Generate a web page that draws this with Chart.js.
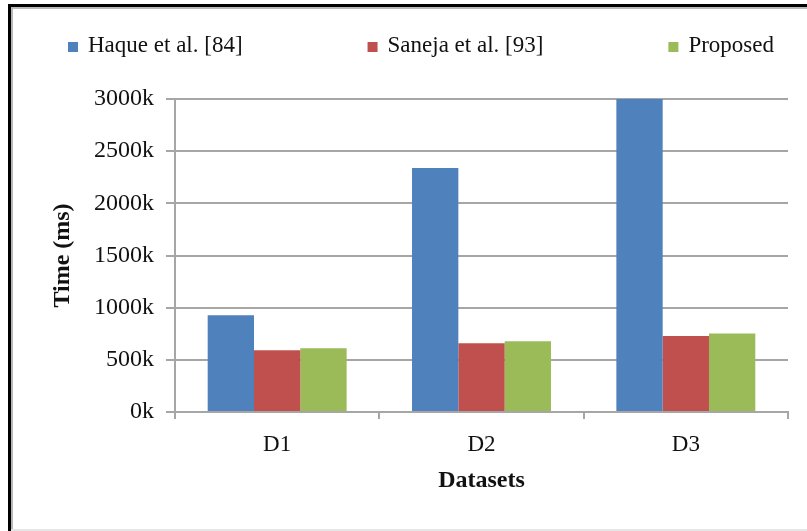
<!DOCTYPE html>
<html>
<head>
<meta charset="utf-8">
<script src="https://cdn.jsdelivr.net/npm/chart.js@4.4.1/dist/chart.umd.min.js"></script>
<style>
  html, body { margin: 0; padding: 0; background: #fff; }
  #wrap { width: 807px; height: 531px; position: relative; }
</style>
</head>
<body>
<div id="wrap"><canvas id="c" width="807" height="531"></canvas></div>
<script>
// Execution time per dataset, in thousands of milliseconds
const categories = ['D1', 'D2', 'D3'];
const haque = [928, 2338, 3000];
const saneja = [592, 659, 729];
const proposed = [611, 678, 752];
const seriesNames = ['Haque et al. [84]', 'Saneja et al. [93]', 'Proposed'];
const yTicks = [0, 500, 1000, 1500, 2000, 2500, 3000];

const serif = "'Liberation Serif', 'Times New Roman', serif";
const gridGrey = '#a6a6a6';
const textColor = '#111';

// White background plus the frame lines on the left and top edges
const framePlugin = {
  id: 'frame',
  beforeDraw(chart) {
    const ctx = chart.ctx;
    ctx.save();
    ctx.fillStyle = '#fff';
    ctx.fillRect(0, 0, chart.width, chart.height);
    ctx.fillStyle = '#000';
    ctx.fillRect(8, 4, chart.width - 8, 3);
    ctx.fillRect(8, 4, 3, chart.height - 4);
    ctx.fillStyle = '#b8b8b8';
    ctx.fillRect(11, 7, chart.width - 11, 2);
    ctx.fillRect(11, 7, 2, chart.height - 7);
    ctx.fillStyle = '#e6e6e6';
    ctx.fillRect(11, chart.height - 2, chart.width - 11, 2);
    ctx.restore();
  }
};

// Single-row legend spread across the top, spaced evenly between two edges
const spreadLegend = {
  id: 'spreadLegend',
  afterDraw(chart, args, opts) {
    const ctx = chart.ctx;
    const items = chart.data.datasets.map(ds => ({ text: ds.label, color: ds.backgroundColor }));
    ctx.save();
    ctx.font = opts.size + 'px ' + serif;
    ctx.textBaseline = 'middle';
    const widths = items.map(it => opts.box + opts.gap + ctx.measureText(it.text).width);
    const total = widths.reduce((a, b) => a + b, 0);
    const space = (opts.right - opts.left - total) / (items.length - 1);
    let x = opts.left;
    items.forEach((it, i) => {
      ctx.fillStyle = it.color;
      ctx.fillRect(x, opts.y - opts.box / 2 + 1, opts.box, opts.box);
      ctx.fillStyle = textColor;
      ctx.fillText(it.text, x + opts.box + opts.gap, opts.y);
      x += widths[i] + space;
    });
    ctx.restore();
  }
};

new Chart(document.getElementById('c'), {
  type: 'bar',
  data: {
    labels: categories,
    datasets: [
      { label: seriesNames[0], data: haque, backgroundColor: '#4f81bd' },
      { label: seriesNames[1], data: saneja, backgroundColor: '#c0504d' },
      { label: seriesNames[2], data: proposed, backgroundColor: '#9bbb59' }
    ]
  },
  options: {
    responsive: false,
    animation: false,
    devicePixelRatio: 1,
    layout: { padding: { top: 99, right: 19, left: 0, bottom: 0 } },
    datasets: { bar: { categoryPercentage: 0.68, barPercentage: 1.0 } },
    plugins: {
      legend: { display: false },
      tooltip: { enabled: false },
      spreadLegend: { left: 68, right: 774, y: 46, size: 23, box: 10, gap: 10 }
    },
    scales: {
      x: {
        grid: { display: true, drawOnChartArea: false, offset: true, color: gridGrey, lineWidth: 2, tickLength: 7 },
        border: { color: gridGrey, width: 2 },
        ticks: { font: { family: serif, size: 23 }, color: textColor, padding: 12 },
        title: { display: true, text: 'Datasets', font: { family: serif, size: 24, weight: 'bold' }, color: textColor, padding: { top: 0, bottom: 36 } },
        afterFit(scale) { scale.height = 119; }
      },
      y: {
        min: 0,
        max: 3000,
        afterBuildTicks(scale) { scale.ticks = yTicks.map(v => ({ value: v })); },
        grid: { color: gridGrey, lineWidth: 2, tickLength: 9 },
        border: { color: gridGrey, width: 2 },
        ticks: {
          autoSkip: false,
          font: { family: serif, size: 24 },
          color: textColor,
          padding: 12,
          callback: v => v + 'k'
        },
        title: { display: true, text: 'Time (ms)', font: { family: serif, size: 24, weight: 'bold' }, color: textColor, padding: { top: 48, bottom: 0 } },
        afterFit(scale) { scale.width = 175; }
      }
    }
  },
  plugins: [framePlugin, spreadLegend]
});
</script>
</body>
</html>
